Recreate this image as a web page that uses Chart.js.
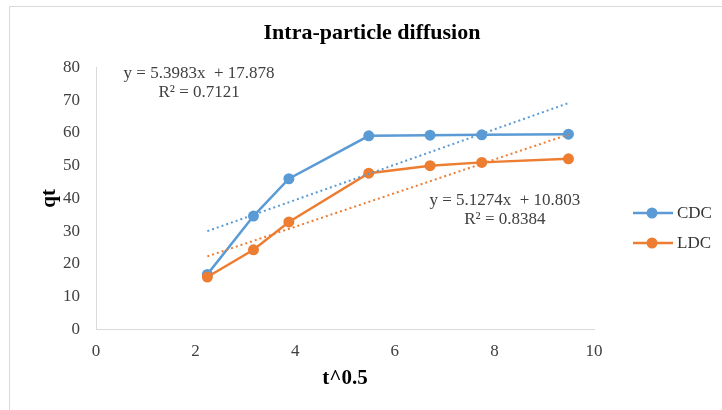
<!DOCTYPE html>
<html>
<head>
<meta charset="utf-8">
<script src="https://cdn.jsdelivr.net/npm/chart.js@4.4.1/dist/chart.umd.min.js"></script>
<style>
body{margin:0;background:#fff;}
#wrap{width:722px;height:410px;position:relative;}
</style>
</head>
<body>
<div id="wrap"><canvas id="myChart"></canvas></div>
<script>
// sqrt(t) values and uptake
const tRoot = [2.236, 3.162, 3.873, 5.477, 6.708, 7.746, 9.487];
const cdcQt = [16.8, 34.6, 46.0, 59.1, 59.3, 59.4, 59.6];
const ldcQt = [16.0, 24.3, 32.8, 47.7, 50.0, 51.0, 52.1];

// linear trendlines (ends)
const trendT = [2.236, 9.487];
const cdcTrend = [30.0, 69.1];
const ldcTrend = [22.3, 59.5];

const seriesNames = ['CDC', 'LDC'];
const cdcEq = ['y = 5.3983x  + 17.878', 'R² = 0.7121'];
const ldcEq = ['y = 5.1274x  + 10.803', 'R² = 0.8384'];

const xTicks = [0, 2, 4, 6, 8, 10];
const yTicks = [0, 10, 20, 30, 40, 50, 60, 70, 80];

const blue = '#5B9BD5';
const orange = '#ED7D31';
const serif = "'Liberation Serif', 'Times New Roman', serif";

function pts(xs, ys){
    return xs.map(function(x, i){ return {x: x, y: ys[i]}; });
}

const extras = {
    id: 'extras',
    afterDraw(chart){
        const ctx = chart.ctx;
        const xs = chart.scales.x, ys = chart.scales.y;
        ctx.save();
        // outer frame
        ctx.strokeStyle = '#d9d9d9';
        ctx.lineWidth = 1;
        ctx.beginPath();
        ctx.moveTo(9.5, 410);
        ctx.lineTo(9.5, 6.5);
        ctx.lineTo(722, 6.5);
        ctx.stroke();

        // trendline equations
        ctx.fillStyle = '#404040';
        ctx.font = '17px ' + serif;
        ctx.textAlign = 'center';
        ctx.textBaseline = 'middle';
        var cx = xs.getPixelForValue(2.07), cy = ys.getPixelForValue(78.0);
        ctx.fillText(cdcEq[0], cx, cy);
        ctx.fillText(cdcEq[1], cx, cy + 19);
        cx = xs.getPixelForValue(8.21); cy = ys.getPixelForValue(39.4);
        ctx.fillText(ldcEq[0], cx, cy);
        ctx.fillText(ldcEq[1], cx, cy + 19);

        // legend
        const cols = [blue, orange];
        const lx = chart.chartArea.right + 39;
        for (var i = 0; i < seriesNames.length; i++){
            var y = 213 + i * 30;
            ctx.strokeStyle = cols[i];
            ctx.lineWidth = 2.5;
            ctx.beginPath();
            ctx.moveTo(lx, y);
            ctx.lineTo(lx + 40, y);
            ctx.stroke();
            ctx.fillStyle = cols[i];
            ctx.beginPath();
            ctx.arc(lx + 19, y, 5.5, 0, Math.PI * 2);
            ctx.fill();
            ctx.fillStyle = '#333';
            ctx.textAlign = 'left';
            ctx.fillText(seriesNames[i], lx + 44, y + 1);
        }
        ctx.restore();
    }
};

const data = {
    datasets: [{
        label: 'CDC linear',
        data: pts(trendT, cdcTrend),
        borderColor: blue,
        borderWidth: 2,
        borderDash: [2, 3],
        pointRadius: 0,
        showLine: true,
        order: 0
    }, {
        label: 'LDC linear',
        data: pts(trendT, ldcTrend),
        borderColor: orange,
        borderWidth: 2,
        borderDash: [2, 3],
        pointRadius: 0,
        showLine: true,
        order: 1
    }, {
        label: seriesNames[1],
        data: pts(tRoot, ldcQt),
        borderColor: orange,
        backgroundColor: orange,
        borderWidth: 2.5,
        pointRadius: 5.5,
        pointBorderWidth: 0,
        showLine: true,
        order: 2
    }, {
        label: seriesNames[0],
        data: pts(tRoot, cdcQt),
        borderColor: blue,
        backgroundColor: blue,
        borderWidth: 2.5,
        pointRadius: 5.5,
        pointBorderWidth: 0,
        showLine: true,
        order: 3
    }]
};

const config = {
    type: 'scatter',
    data: data,
    options: {
        responsive: true,
        maintainAspectRatio: false,
        animation: false,
        layout: { padding: { left: 22, right: 0, top: 0, bottom: 19 } },
        plugins: {
            legend: { display: false },
            tooltip: { enabled: false },
            title: {
                display: true,
                text: 'Intra-particle diffusion',
                color: '#000',
                font: { family: serif, size: 22, weight: 'bold' },
                padding: { top: 20, bottom: 21 }
            }
        },
        scales: {
            x: {
                type: 'linear',
                min: xTicks[0],
                max: xTicks[xTicks.length - 1],
                afterBuildTicks: function(s){ s.ticks = xTicks.map(function(v){ return {value: v}; }); },
                grid: { display: false, drawTicks: false },
                border: { display: true, color: '#d9d9d9', width: 1 },
                ticks: { color: '#404040', font: { family: serif, size: 17 }, padding: 12 },
                title: {
                    display: true,
                    text: 't^0.5',
                    color: '#000',
                    font: { family: serif, size: 21, weight: 'bold' },
                    padding: { top: -8, bottom: 0 }
                }
            },
            y: {
                type: 'linear',
                min: yTicks[0],
                max: yTicks[yTicks.length - 1],
                afterBuildTicks: function(s){ s.ticks = yTicks.map(function(v){ return {value: v}; }); },
                afterFit: function(s){ s.width = 74; },
                grid: { display: false, drawTicks: false },
                border: { display: true, color: '#d9d9d9', width: 1 },
                ticks: { color: '#404040', font: { family: serif, size: 17 }, padding: 16 },
                title: {
                    display: true,
                    text: 'qt',
                    color: '#000',
                    font: { family: serif, size: 21, weight: 'bold' },
                    padding: { top: 15, bottom: 0 }
                }
            },
            side: {
                type: 'linear',
                position: 'right',
                afterFit: function(s){ s.width = 128; },
                grid: { display: false, drawTicks: false },
                border: { display: false },
                ticks: { display: false }
            }
        }
    },
    plugins: [extras]
};

new Chart(document.getElementById('myChart'), config);
</script>
</body>
</html>
